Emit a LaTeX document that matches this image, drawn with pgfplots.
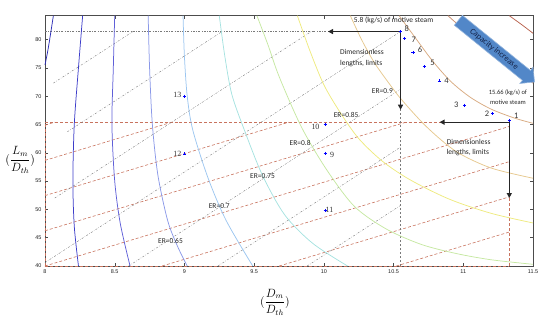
\documentclass[border=0pt]{standalone}
\usepackage{fontspec}
\setmainfont{Carlito}
\newfontfamily\arialf{Liberation Sans}
\newfontfamily\serf{Liberation Serif}
\usepackage{pgfplots}
\pgfplotsset{compat=1.18}
\usetikzlibrary{arrows.meta,shapes.arrows,calc}

\definecolor{c1}{HTML}{2B2BB5}
\definecolor{c2}{HTML}{3D3DC9}
\definecolor{c3}{HTML}{5F5FD8}
\definecolor{c4}{HTML}{8A98E8}
\definecolor{c5}{HTML}{9CC6F0}
\definecolor{c6}{HTML}{A6E2E0}
\definecolor{c7}{HTML}{C6E8A2}
\definecolor{c8}{HTML}{EEEA7E}
\definecolor{c9}{HTML}{E6C88E}
\definecolor{c10}{HTML}{D8AA80}
\definecolor{c11}{HTML}{C88C6E}
\definecolor{c12}{HTML}{B8624E}
\definecolor{rdash}{HTML}{C8735E}
\definecolor{gdash}{HTML}{7A7A7A}
\definecolor{capblue}{HTML}{5287C8}
\definecolor{navy}{HTML}{14244A}

\pgfplotsset{
  er/.style={line width=0.75pt, smooth, tension=0.5},
  lim/.style={color=rdash, line width=0.6pt, dash pattern=on 3pt off 2pt},
  erline/.style={color=gdash, line width=0.4pt, dash pattern=on 2pt off 1.5pt on 0.5pt off 1.5pt},
  bigarrow/.style={black!85, line width=1.2pt, -{Triangle[length=5bp,width=5bp]}},
}

\begin{document}
\begin{tikzpicture}
\begin{axis}[
  name=ax,
  width=488bp, height=250.3bp, scale only axis,
  xmin=8, xmax=11.5, ymin=40, ymax=84.2,
  clip=false,
  xtick={8,8.5,9,9.5,10,10.5,11,11.5},
  ytick={40,45,50,55,60,65,70,75,80},
  tick align=inside,
  major tick length=3.5bp,
  tick style={gray!60!black, line width=0.4pt},
  axis line style={gray!60!black, line width=0.5pt},
  ticklabel style={font=\arialf\fontsize{5.5}{6}\selectfont, text=gray!25!black},
  /pgf/number format/assume math mode=true,
  xlabel={$\displaystyle\bigl(\frac{D_m}{D_{th}}\bigr)$},
  ylabel={$\displaystyle\bigl(\frac{L_m}{D_{th}}\bigr)$},
  xlabel style={at={(axis description cs:0.471,0)}, anchor=center, yshift=-36bp, font=\fontsize{12}{14}\selectfont},
  ylabel style={at={(axis description cs:-0.051,0.424)}, anchor=center, rotate=-90, font=\fontsize{12}{14}\selectfont},
]

% limits box (red dashed)
\addplot[lim] coordinates {(8,40) (11.33,40)};
\addplot[lim] coordinates {(8,40) (8,65.4)};
\addplot[lim] coordinates {(8,65.4) (11.33,65.4)};
\addplot[lim] coordinates {(11.33,40) (11.33,65.4)};
\addplot[lim] coordinates {(8,64.86) (8.07,65.4)};
\addplot[lim] coordinates {(8,58.65) (8.91,65.4)};
\addplot[lim] coordinates {(8,52.43) (9.75,65.4)};
\addplot[lim] coordinates {(8,46.22) (10.59,65.4)};
\addplot[lim] coordinates {(8,40) (11.33,64.64)};
\addplot[lim] coordinates {(8.84,40) (11.33,58.43)};
\addplot[lim] coordinates {(9.68,40) (11.33,52.21)};
\addplot[lim] coordinates {(10.52,40) (11.33,46.0)};

% ER lines (grey dash-dot)
\addplot[erline] coordinates {(8.06,72.3) (8.63,81.4)};
\addplot[erline] coordinates {(8.16,63.7) (9.27,81.4)};
\addplot[erline] coordinates {(8.07,52.0) (9.91,81.4)};
\addplot[erline] coordinates {(8.00,40.6) (10.55,81.4)};
\addplot[erline] coordinates {(8.60,40) (10.55,71.2)};
\addplot[erline] coordinates {(9.24,40) (10.55,61.0)};
\addplot[erline] coordinates {(9.88,40) (10.55,50.7)};
\addplot[erline] coordinates {(8,81.4) (10.55,81.4)};
\addplot[color=gdash, line width=0.4pt, dash pattern=on 2pt off 2pt] coordinates {(10.55,40) (10.55,81.4)};

% contour curves
\addplot[er, c1] coordinates {(8.06,84.2) (8.04,81) (8.02,78) (8.0,75.5)};
\addplot[er, c2] coordinates {(8.27,84.2) (8.24,75) (8.21,65) (8.20,55) (8.21,47) (8.24,40)};
\addplot[er, c3] coordinates {(8.50,84.2) (8.49,75) (8.48,65) (8.50,55) (8.54,47.5) (8.61,40)};
\addplot[er, c4] coordinates {(8.74,84.2) (8.75,75) (8.77,65) (8.81,56) (8.88,48) (8.95,43.5) (9.02,40)};
\addplot[er, c5] coordinates {(8.99,84.2) (9.00,77) (9.02,70) (9.06,64) (9.17,55.5) (9.30,48) (9.49,40)};
\addplot[er, c6] coordinates {(9.25,84.2) (9.29,77) (9.34,70.3) (9.43,64) (9.56,56) (9.72,49) (9.92,44) (10.17,40)};
\addplot[er, c7] coordinates {(9.52,84.2) (9.60,79) (9.68,73.4) (9.84,64.5) (10.02,57) (10.22,50.5) (10.45,46.5) (10.70,43.8) (10.95,42.2) (11.2,41.1) (11.5,40.3)};
\addplot[er, c8] coordinates {(9.81,84.2) (9.90,78) (10.00,72) (10.12,67) (10.25,62.5) (10.42,58.5) (10.62,55.2) (10.9,51.8) (11.2,49.3) (11.5,47.6)};
\addplot[er, c9] coordinates {(10.19,84.2) (10.27,80) (10.36,76) (10.46,72.5) (10.56,69.3) (10.74,64.5) (10.95,60.2) (11.2,57.3) (11.5,55.5)};
\addplot[er, c10] coordinates {(10.54,84.2) (10.65,80.5) (10.78,76.2) (10.91,72.6) (11.05,69.8) (11.2,67.7) (11.37,66.1) (11.5,65.2)};
\addplot[er, c11] coordinates {(10.89,84.2) (11.0,81.8) (11.15,78.6) (11.32,75.4) (11.5,72.3)};
\addplot[er, c12] coordinates {(11.33,84.2) (11.42,82.6) (11.5,81.1)};

% motive steam limits
\addplot[bigarrow] coordinates {(10.55,81.4) (10.03,81.4)};
\addplot[bigarrow] coordinates {(10.55,81.4) (10.55,67.6)};
\addplot[bigarrow] coordinates {(11.33,65.4) (10.83,65.4)};
\addplot[bigarrow] coordinates {(11.33,65.4) (11.33,52)};

% operating points
\addplot[only marks, mark=+, mark size=1.6pt, color=blue, line width=0.5pt] coordinates {
  (11.33,65.7) (11.21,66.9) (11.01,68.4) (10.83,72.7) (10.72,75.2) (10.64,77.7) (10.58,80.2) (10.55,81.4)
  (10.01,59.9) (10.01,65.0) (10.01,49.8) (9.00,59.8) (9.00,70.0)
};

% point numbers
\begin{scope}[every node/.style={font=\fontsize{8.5}{9}\selectfont, text=black!80, inner sep=0.5pt}]
\node at (axis cs:11.38,66.5) {1};
\node at (axis cs:11.17,66.9) {2};
\node at (axis cs:10.95,68.4) {3};
\node at (axis cs:10.88,72.7) {4};
\node at (axis cs:10.78,75.9) {5};
\node at (axis cs:10.69,78.2) {6};
\node at (axis cs:10.645,80.0) {7};
\node at (axis cs:10.595,81.9) {8};
\end{scope}
\begin{scope}[every node/.style={font=\serf\fontsize{8}{9}\selectfont, text=black!80, inner sep=0.5pt}]
\node at (axis cs:10.06,59.6) {9};
\node at (axis cs:9.94,64.6) {10};
\node at (axis cs:10.04,49.9) {11};
\node at (axis cs:8.95,59.8) {12};
\node at (axis cs:8.95,70.2) {13};
\end{scope}

% ER labels
\begin{scope}[every node/.style={font=\fontsize{7.5}{8}\selectfont, text=black!85, inner sep=0.5pt}]
\node at (axis cs:8.90,44.4) {ER=0.65};
\node at (axis cs:9.25,50.6) {ER=0.7};
\node at (axis cs:9.56,55.9) {ER=0.75};
\node at (axis cs:9.83,61.8) {ER=0.8};
\node at (axis cs:10.16,66.7) {ER=0.85};
\node at (axis cs:10.42,70.9) {ER=0.9};
\end{scope}

% annotations
\node[font=\fontsize{7.5}{8}\selectfont, text=black!85, inner sep=0pt] at (axis cs:10.50,83.3) {5.8 (kg/s) of motive steam};
\node[font=\fontsize{7.5}{10.5}\selectfont, text=black!85, align=left, anchor=west, inner sep=0pt] at (axis cs:10.115,76.75) {Dimensionless\\lengths, limits};
\node[font=\fontsize{7.5}{10.5}\selectfont, text=black!85, align=left, anchor=west, inner sep=0pt] at (axis cs:10.88,60.9) {Dimensionless\\lengths, limits};
\node[font=\fontsize{6.5}{10}\selectfont, text=black!85, align=center, inner sep=0pt] at (axis cs:11.32,69.9) {15.66 (kg/s) of\\motive steam};
\node[single arrow, fill=capblue, draw=capblue!60!white, line width=0.6pt, rotate=-39,
      minimum height=98bp, single arrow head extend=4bp, inner xsep=2pt, inner ysep=2.5pt,
      font=\fontsize{8.5}{9}\selectfont, text=navy] at (axis cs:11.22,78.3) {Capacity increase};
\end{axis}
\pgfresetboundingbox
\path[use as bounding box] ($(ax.south west)+(-45bp,-60bp)$) rectangle ($(ax.north east)+(17bp,15.7bp)$);
\end{tikzpicture}
\end{document}
